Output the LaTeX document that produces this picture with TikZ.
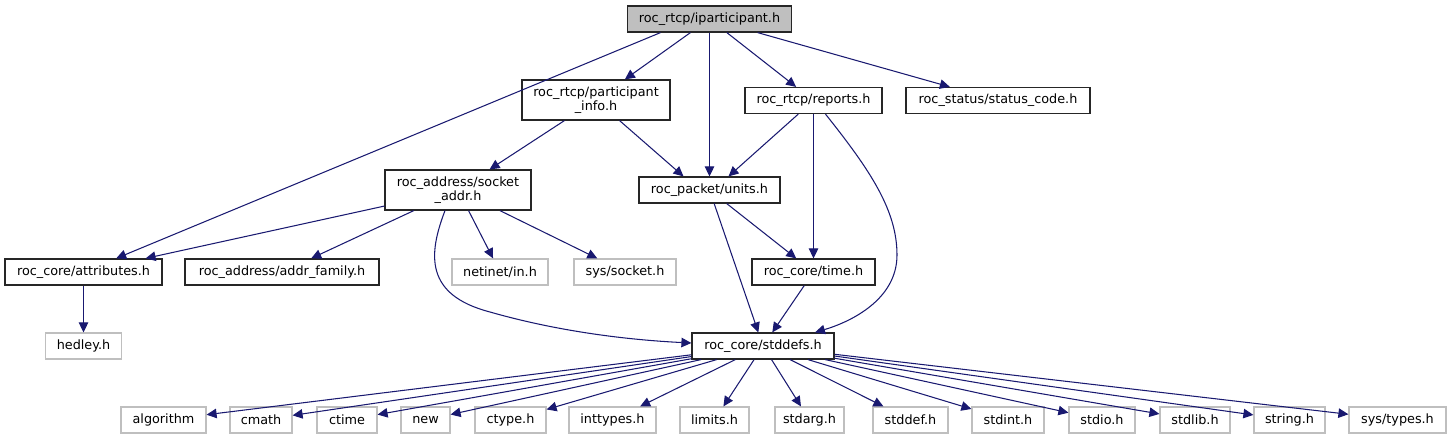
\documentclass[tikz,border=0pt]{standalone}
\usepackage{fontspec}
\setmainfont{DejaVu Sans}
\usetikzlibrary{arrows.meta,calc}
\definecolor{edgec}{HTML}{191970}
\definecolor{grayb}{HTML}{BFBFBF}
\tikzset{
  base/.style={rectangle, inner sep=0pt, minimum height=26pt, font=\fontsize{12.8}{13.4}\selectfont, align=center, text=black},
  doc/.style={base, draw=black!85, line width=1.2pt},
  ext/.style={base, draw=grayb, line width=1.2pt},
  topnode/.style={doc, fill=grayb},
  dep/.style={draw=edgec, line width=1.05pt, -{Triangle[length=10pt,width=9.5pt]}}
}
\begin{document}
\begin{tikzpicture}[x=1pt,y=-1pt]
\useasboundingbox (0,0) rectangle (1451,440);
% nodes
\node[topnode, minimum width=164pt] (ip) at (709.5,19) {roc\_rtcp/iparticipant.h};
\node[doc, minimum width=148pt, minimum height=40pt] (pinfo) at (596,100) {roc\_rtcp/participant\\\_info.h};
\node[doc, minimum width=137pt] (rep) at (813.5,100.5) {roc\_rtcp/reports.h};
\node[doc, minimum width=184pt] (stat) at (998,100.5) {roc\_status/status\_code.h};
\node[doc, minimum width=146pt, minimum height=40pt] (sock) at (458,190) {roc\_address/socket\\\_addr.h};
\node[doc, minimum width=141pt] (units) at (709.5,190) {roc\_packet/units.h};
\node[doc, minimum width=157pt] (attr) at (83.5,272) {roc\_core/attributes.h};
\node[doc, minimum width=194pt] (afam) at (282,272) {roc\_address/addr\_family.h};
\node[ext, minimum width=96pt] (netin) at (500,272) {netinet/in.h};
\node[ext, minimum width=102pt] (ssock) at (625,272) {sys/socket.h};
\node[doc, minimum width=123pt] (time) at (813.5,272) {roc\_core/time.h};
\node[ext, minimum width=76pt] (hedley) at (83.5,346) {hedley.h};
\node[doc, minimum width=142pt] (std) at (763,346) {roc\_core/stddefs.h};
% bottom row
\node[ext, minimum width=85pt] (b1) at (163.5,420) {algorithm};
\node[ext, minimum width=62pt] (b2) at (261,420) {cmath};
\node[ext, minimum width=60pt] (b3) at (347,420) {ctime};
\node[ext, minimum width=49pt] (b4) at (425.5,420) {new};
\node[ext, minimum width=71pt] (b5) at (510.5,420) {ctype.h};
\node[ext, minimum width=87pt] (b6) at (612.5,420) {inttypes.h};
\node[ext, minimum width=69pt] (b7) at (714.5,420) {limits.h};
\node[ext, minimum width=69pt] (b8) at (809.5,420) {stdarg.h};
\node[ext, minimum width=75pt] (b9) at (910.5,420) {stddef.h};
\node[ext, minimum width=72pt] (b10) at (1008,420) {stdint.h};
\node[ext, minimum width=66pt] (b11) at (1102,420) {stdio.h};
\node[ext, minimum width=70pt] (b12) at (1195,420) {stdlib.h};
\node[ext, minimum width=71pt] (b13) at (1289.5,420) {string.h};
\node[ext, minimum width=97pt] (b14) at (1397.5,420) {sys/types.h};
% edges from iparticipant
\draw[dep] ($(ip.south)+(-49,0)$) -- (attr);
\draw[dep] (ip) -- (pinfo);
\draw[dep] (ip) -- (units);
\draw[dep] (ip) -- (rep);
\draw[dep] (ip) -- (stat);
% participant_info
\draw[dep] (pinfo) -- (sock);
\draw[dep] (pinfo) -- ($(units.north)+(-26,0)$);
% reports
\draw[dep] (rep) -- ($(units.north)+(19,0)$);
\draw[dep] (rep) -- (time);
\draw[dep] ($(rep.south)+(12,0)$) .. controls (870,170) and (897,210) .. (897,255) .. controls (897,300) and (850,322) .. ($(std.north)+(52,0)$);
% socket_addr
\draw[dep] (sock) -- (attr);
\draw[dep] (sock) -- (afam);
\draw[dep] (sock) -- (netin);
\draw[dep] (sock) -- (ssock);
\draw[dep] ($(sock.south)+(-13,0)$) .. controls (428,255) and (425,295) .. (490,312) .. controls (560,332) and (630,340) .. ($(std.west)+(0,-3)$);
% units, time, attributes
\draw[dep] (units) -- (time);
\draw[dep] (units) -- (std);
\draw[dep] (time) -- (std);
\draw[dep] (attr) -- (hedley);
% stddefs to bottom row
\foreach \b in {b1,b2,b3,b4,b5,b6,b7,b8,b9,b10,b11,b12,b13,b14}
  \draw[dep] (std) -- (\b);
\end{tikzpicture}
\end{document}
